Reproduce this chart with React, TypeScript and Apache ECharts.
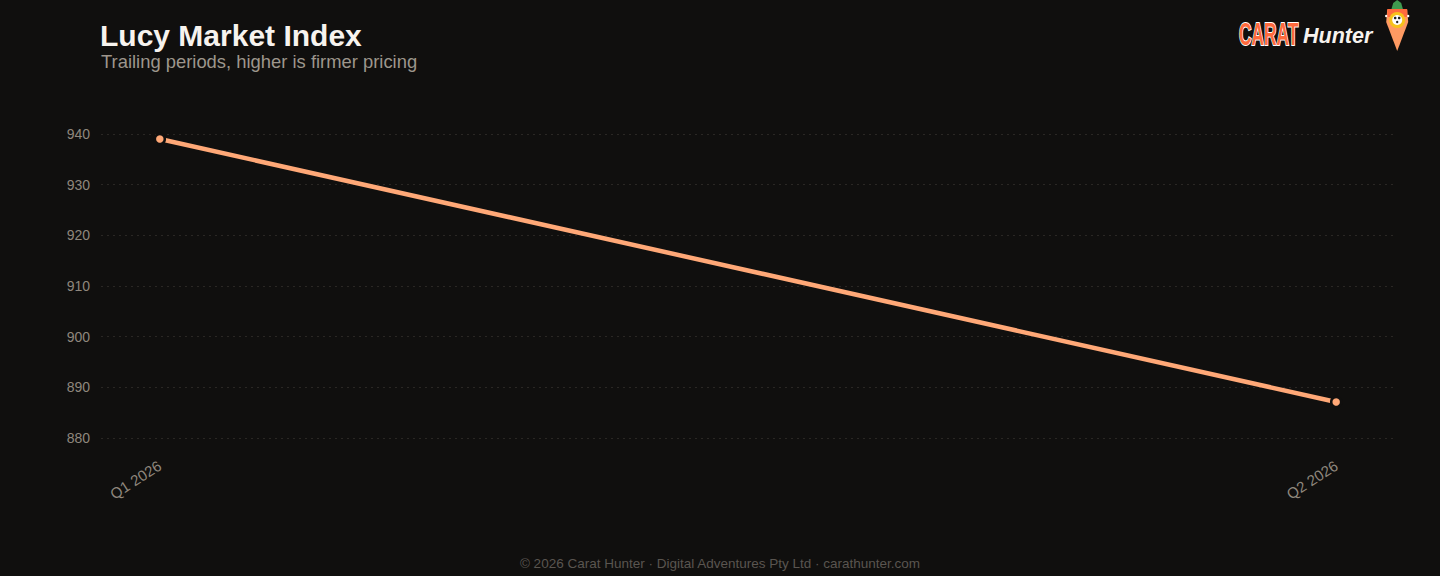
import React, { useEffect, useRef } from "react";
import * as echarts from "echarts";

const categories = ["Q1 2026", "Q2 2026"];
const indexValues = [939.0, 887.1];
const yTicks = { min: 880, max: 940, interval: 10 };

const BG = "#100f0e";

export default function App() {
  const ref = useRef<HTMLDivElement>(null);
  useEffect(() => {
    document.body.style.margin = "0";
    document.body.style.background = BG;
    const chart = echarts.init(ref.current!, null, { renderer: "svg" });
    const data = indexValues.map((v, i) => [i, v]);
    chart.setOption({
      animation: false,
      backgroundColor: BG,
      textStyle: { fontFamily: "Liberation Sans, Arial, sans-serif" },
      title: [
        {
          text: "Lucy Market Index",
          left: 95,
          top: 15,
          textStyle: { color: "#f7f3ee", fontSize: 30, fontWeight: "bold" },
        },
        {
          text: "Trailing periods, higher is firmer pricing",
          left: 96,
          top: 47,
          textStyle: { color: "#9d968c", fontSize: 18.4, fontWeight: "normal" },
        },
        {
          text: "© 2026 Carat Hunter · Digital Adventures Pty Ltd · carathunter.com",
          left: "center",
          top: 551,
          textStyle: { color: "#5a5550", fontSize: 13.5, fontWeight: "normal" },
        },
      ],
      grid: { left: 101, right: 45, top: 134, bottom: 138 },
      xAxis: {
        type: "value",
        min: -0.05,
        max: 1.05,
        axisLine: { show: false },
        axisTick: { show: false },
        splitLine: { show: false },
        axisLabel: {
          customValues: [0, 1],
          rotate: 33,
          margin: 26,
          color: "#8f877d",
          fontSize: 15,
          formatter: (v: number) => categories[Math.round(v)] ?? "",
        },
      },
      yAxis: {
        type: "value",
        min: yTicks.min,
        max: yTicks.max,
        interval: yTicks.interval,
        axisLine: { show: false },
        axisTick: { show: false },
        axisLabel: { color: "#8f877d", fontSize: 14, margin: 11 },
        splitLine: { lineStyle: { color: "#2a2724", type: [2, 4], width: 1 } },
      },
      series: [
        {
          type: "line",
          data,
          lineStyle: { color: "#ffa877", width: 4.5 },
          itemStyle: { color: "#ffa877", borderColor: BG, borderWidth: 2.5 },
          symbol: "circle",
          symbolSize: 10,
          showSymbol: true,
        },
      ],
      graphic: [
        {
          type: "text",
          x: 1239,
          y: 18,
          scaleX: 0.56,
          style: {
            text: "CARAT",
            fill: "#ff6a3d",
            stroke: "#ffffff",
            lineWidth: 2,
            font: "bold 31px 'Liberation Sans', sans-serif",
          },
        },
        {
          type: "text",
          left: 1303,
          top: 25,
          style: {
            text: "Hunter",
            fill: "#f7f3ee",
            font: "italic bold 21.5px 'Liberation Sans', Arial, sans-serif",
          },
        },
        {
          type: "group",
          left: 1385,
          top: 0,
          children: [
            {
              type: "polygon",
              shape: { points: [[7, 8], [9, 1], [13, -2], [17, 1], [19, 8]] },
              style: { fill: "#3f9a4f" },
            },
            {
              type: "polygon",
              shape: { points: [[3, 8], [23, 8], [24, 20], [13, 49], [2, 20]] },
              style: { fill: "#ff9a62" },
            },
            {
              type: "rect",
              shape: { x: 3, y: 7, width: 20, height: 8 },
              style: { fill: "#ff6a3d" },
            },
            { type: "circle", shape: { cx: 13, cy: 18, r: 8 }, style: { fill: "#f7c21b" } },
            { type: "circle", shape: { cx: 13, cy: 18, r: 5 }, style: { fill: "#ffffff" } },
            { type: "circle", shape: { cx: 11, cy: 16, r: 1.3 }, style: { fill: "#222" } },
            { type: "circle", shape: { cx: 15, cy: 16, r: 1.3 }, style: { fill: "#222" } },
            { type: "circle", shape: { cx: 13, cy: 20, r: 1.2 }, style: { fill: "#222" } },
            { type: "circle", shape: { cx: 2, cy: 14, r: 1.2 }, style: { fill: "#ffffff" } },
            { type: "circle", shape: { cx: 24, cy: 14, r: 1.2 }, style: { fill: "#ffffff" } },
          ],
        },
      ],
    });
    return () => chart.dispose();
  }, []);
  return <div ref={ref} style={{ width: 1440, height: 576 }} />;
}
